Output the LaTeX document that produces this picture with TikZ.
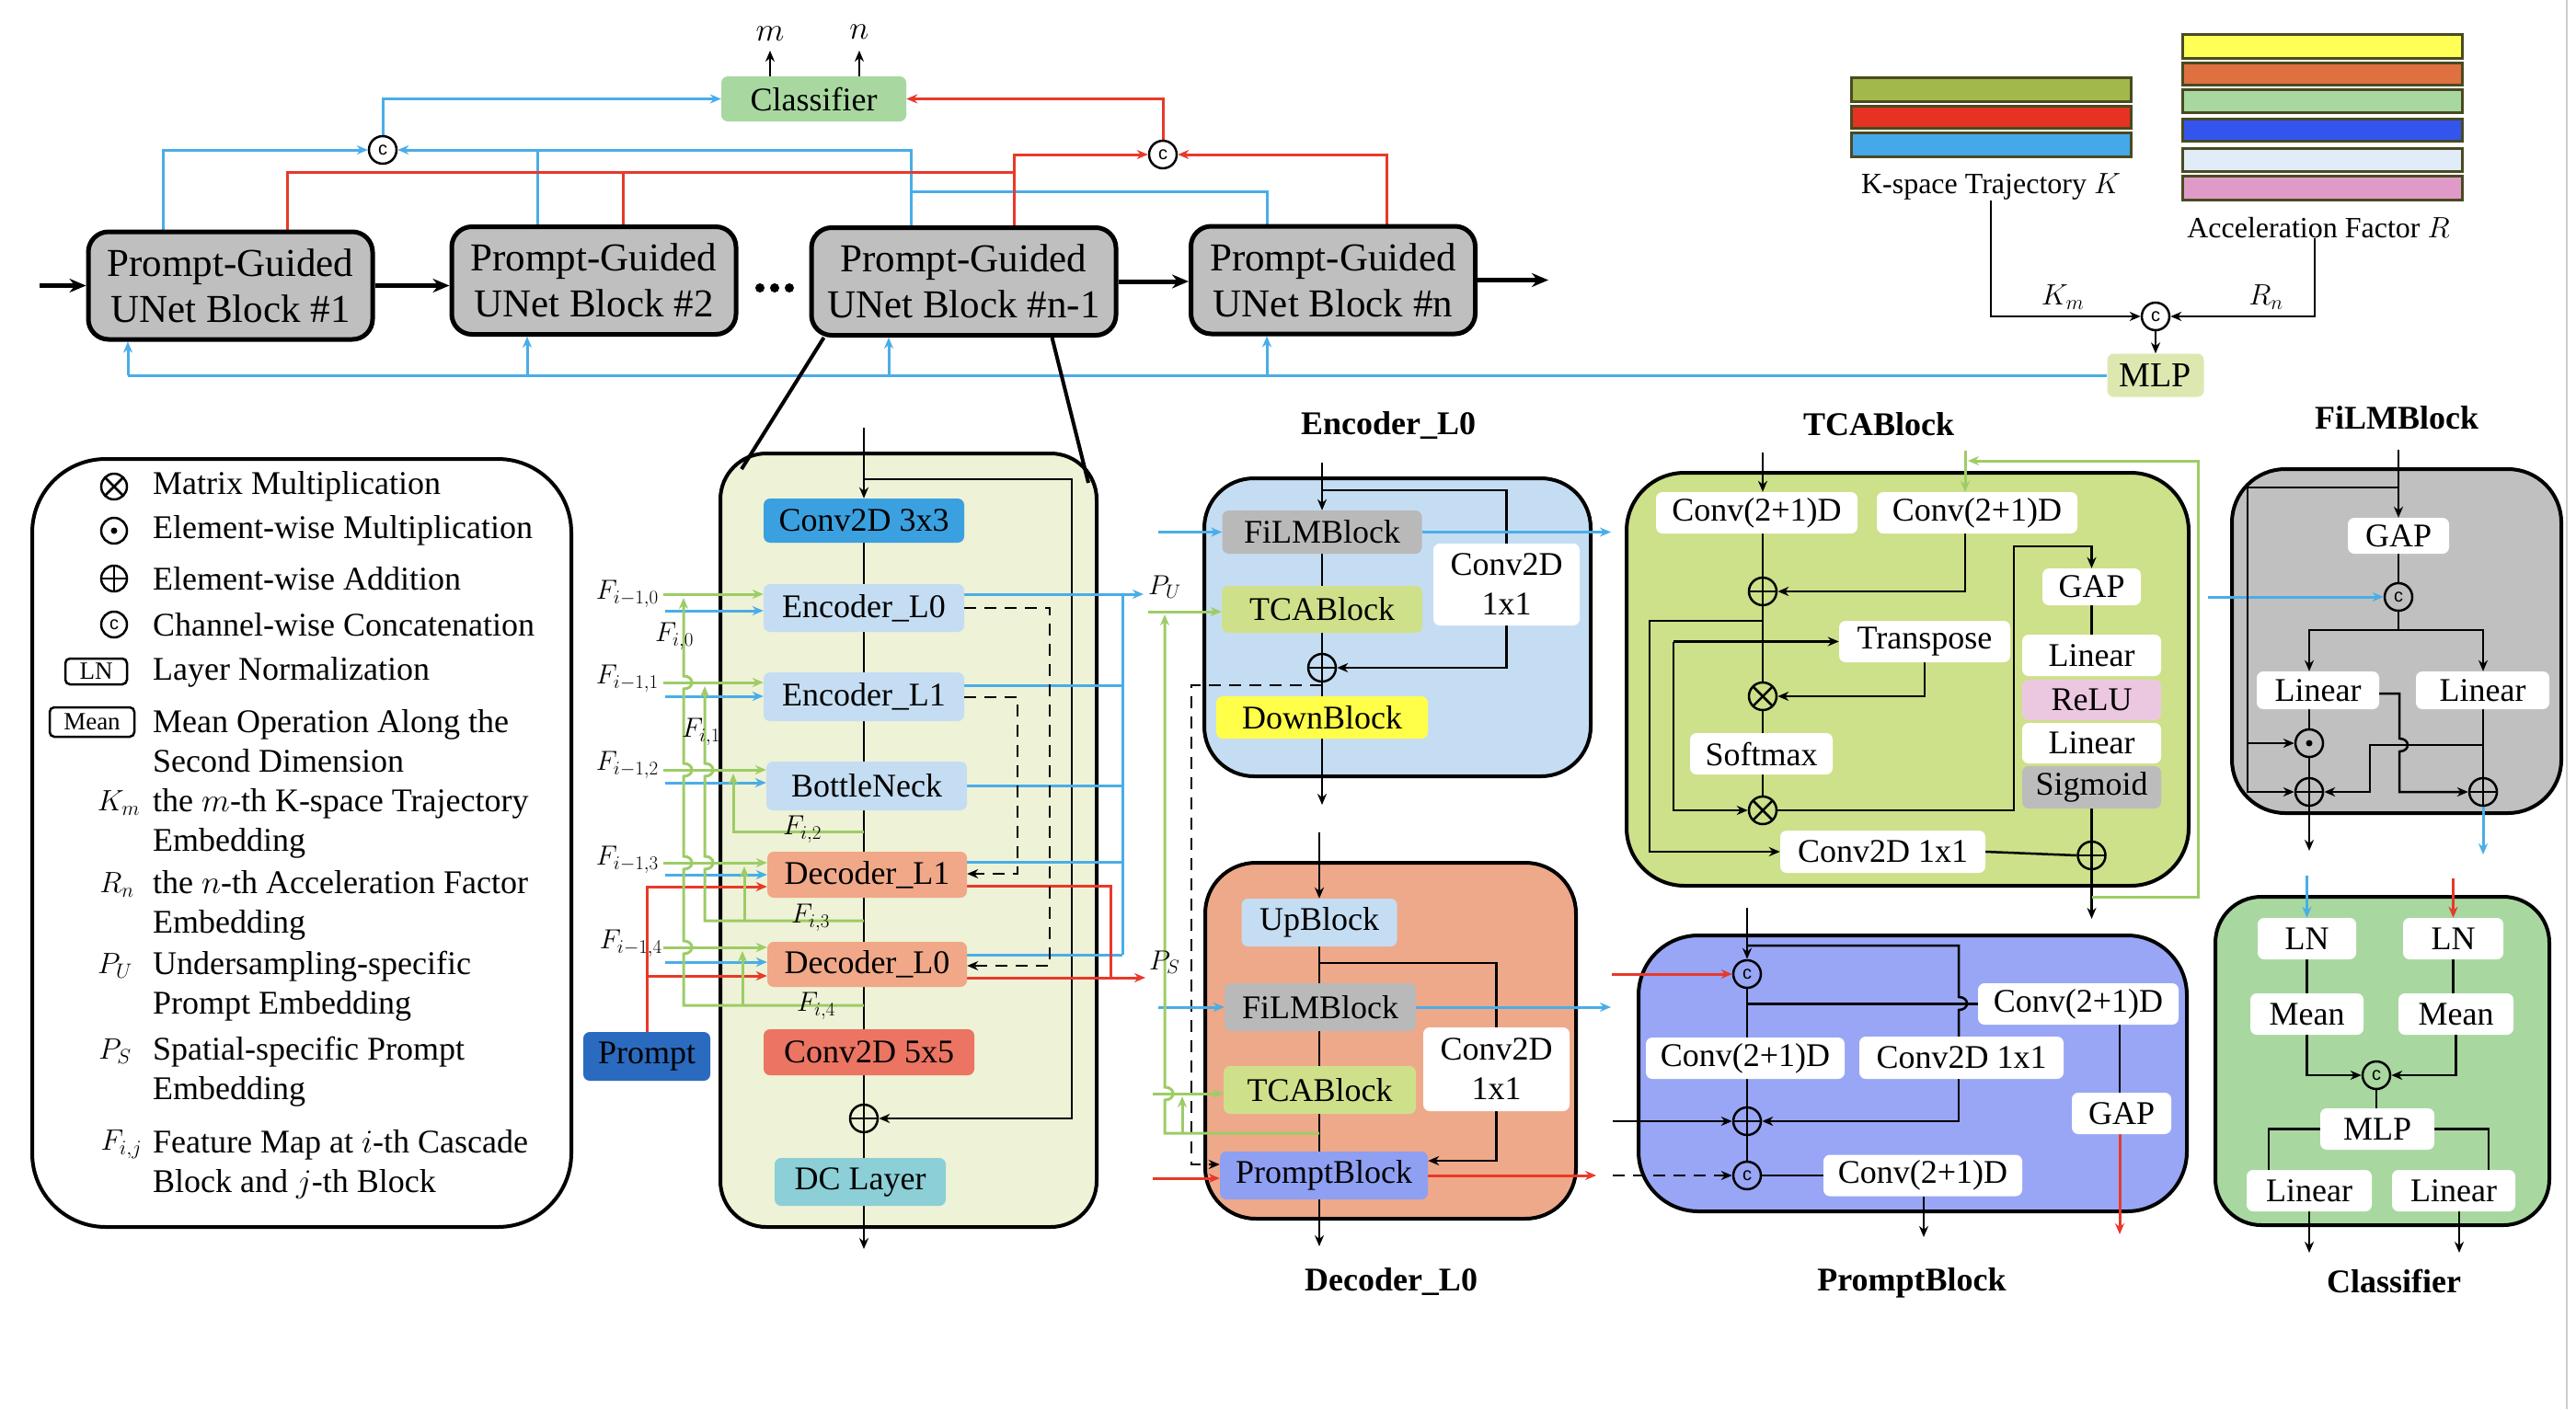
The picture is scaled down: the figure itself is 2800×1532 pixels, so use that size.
\RequirePackage{fix-cm}
\documentclass[tikz,border=0pt]{standalone}
\usepackage{fontspec}
\setmainfont{Liberation Serif}
\newfontfamily\sansf{Liberation Sans}
\usetikzlibrary{arrows.meta}
\definecolor{cBlue}{HTML}{4AADE8}
\definecolor{cRed}{HTML}{E8392A}
\definecolor{cGreen}{HTML}{9DCC66}
\definecolor{cGray}{HTML}{BFBFBF}
\definecolor{cCls}{HTML}{A8D8A0}
\definecolor{cMLP}{HTML}{DDE8B0}
\definecolor{cUnet}{HTML}{EEF2D6}
\definecolor{cConvA}{HTML}{3AA0E0}
\definecolor{cEnc}{HTML}{C5DDF2}
\definecolor{cDec}{HTML}{F0A888}
\definecolor{cConvB}{HTML}{EC7462}
\definecolor{cDC}{HTML}{8CCFD6}
\definecolor{cPrompt}{HTML}{2A6BBF}
\definecolor{cFilm}{HTML}{B9B9B9}
\definecolor{cTca}{HTML}{CFE08A}
\definecolor{cDown}{HTML}{FFFF4A}
\definecolor{cDecBox}{HTML}{EEA98A}
\definecolor{cPB}{HTML}{8F9FF2}
\definecolor{cTcaBox}{HTML}{CDE08A}
\definecolor{cPBBox}{HTML}{98A6F5}
\definecolor{cFilmBox}{HTML}{C0C0C0}
\definecolor{cRelu}{HTML}{ECC8E0}
\definecolor{cSig}{HTML}{BCBCBC}
\definecolor{bKa}{HTML}{A3B84A}
\definecolor{bKb}{HTML}{E53222}
\definecolor{bKc}{HTML}{45A8E8}
\definecolor{bRa}{HTML}{FFFF55}
\definecolor{bRb}{HTML}{E07040}
\definecolor{bRc}{HTML}{A8D8A0}
\definecolor{bRd}{HTML}{3355EE}
\definecolor{bRe}{HTML}{E0ECF8}
\definecolor{bRf}{HTML}{E09AC8}
\definecolor{bEdge}{HTML}{4A4A22}
\pgfdeclarelayer{bgw}
\pgfdeclarelayer{boxes}
\pgfdeclarelayer{edges}
\pgfsetlayers{bgw,boxes,edges,main}
\tikzset{
  fA/.style={font=\fontsize{36}{43}\selectfont},
  fT/.style={font=\fontsize{36}{43}\selectfont\bfseries},
  lbl/.style={inner sep=0pt},
  blk/.style={rounded corners=7pt, inner sep=0pt, align=center, fA},
  ubk/.style={draw, line width=5pt, fill=cGray, rounded corners=22pt, minimum width=309pt, minimum height=117pt, inner sep=0pt, align=center, font=\fontsize{43}{50}\selectfont},
  bigbox/.style={draw, line width=4pt, inner sep=0pt},
  op/.style={circle, draw, line width=2.5pt, minimum size=30pt, inner sep=0pt},
  opplus/.style={op, path picture={\draw[black, line width=2.5pt] (path picture bounding box.north) -- (path picture bounding box.south) (path picture bounding box.west) -- (path picture bounding box.east);}},
  optimes/.style={op, path picture={\draw[black, line width=2.5pt] (path picture bounding box.north west) -- (path picture bounding box.south east) (path picture bounding box.north east) -- (path picture bounding box.south west);}},
  opcat/.style={op, font=\sansf\fontsize{20}{20}\selectfont},
  opdot/.style={op, path picture={\fill[black] (path picture bounding box.center) circle (3.5pt);}},
  ln/.style={line width=2.5pt},
  arr/.style={-{Stealth[length=12pt,width=10pt]}},
  bigarr/.style={line width=5pt, -{Stealth[length=18pt,width=15pt]}},
  bl/.style={cBlue, line width=3pt},
  rd/.style={cRed, line width=3pt},
  gr/.style={cGreen, line width=3pt},
  dsh/.style={line width=2.5pt, dash pattern=on 13pt off 9pt},
  bar/.style={draw=bEdge, line width=3pt},
  mth/.style={inner sep=0pt, font=\fontsize{30}{30}\selectfont},
}
\begin{document}
\begin{tikzpicture}[x=1pt,y=-1pt]
\useasboundingbox (0,0) rectangle (2800,1532);
\begin{pgfonlayer}{bgw}
\fill[white] (0,0) rectangle (2800,1532);
\draw[black!20, line width=2pt] (2790,0) -- (2790,1532);
\end{pgfonlayer}

% ================= TOP CASCADE =================
\node[ubk] (b1) at (250.5,310.5) {Prompt-Guided\\UNet Block \#1};
\node[ubk] (b2) at (645.5,305) {Prompt-Guided\\UNet Block \#2};
\node[ubk, minimum width=331pt] (b3) at (1047.5,306) {Prompt-Guided\\UNet Block \#n-1};
\node[ubk] (b4) at (1449,304.5) {Prompt-Guided\\UNet Block \#n};
\fill (826,313) circle (5pt) (842,313) circle (5pt) (858,313) circle (5pt);
\coordinate (inL) at (43,310.5);
\coordinate (outR) at (1683,304.5);

\node[blk, fill=cCls, minimum width=201pt, minimum height=49pt] (cls) at (884.5,107.5) {Classifier};
\node[lbl, font=\fontsize{36}{36}\selectfont] (lm) at (837,37) {$m$};
\node[lbl, font=\fontsize{36}{36}\selectfont] (lnn) at (934,35) {$n$};
\coordinate (mt) at (837,55);
\coordinate (nt) at (934,55);
\node[opcat, fill=white] (cc1) at (416,163) {c};
\node[opcat, fill=white] (cc2) at (1264,168) {c};

% K / R embeddings
\draw[bar, fill=bKa] (2012,84) rectangle (2316,110);
\draw[bar, fill=bKb] (2012,115) rectangle (2316,139);
\draw[bar, fill=bKc] (2012,144) rectangle (2316,170);
\draw[bar, fill=bRa] (2372,37) rectangle (2676,63);
\draw[bar, fill=bRb] (2372,68) rectangle (2676,92);
\draw[bar, fill=bRc] (2372,97) rectangle (2676,122);
\draw[bar, fill=bRd] (2372,129) rectangle (2676,153);
\draw[bar, fill=bRe] (2372,161) rectangle (2676,186);
\draw[bar, fill=bRf] (2372,191) rectangle (2676,217);
\node[lbl, font=\fontsize{32}{36}\selectfont] (klab) at (2164,203) {K-space Trajectory $K$};
\node[lbl, font=\fontsize{32}{36}\selectfont] (rlab) at (2520,248) {Acceleration Factor $R$};
\node[lbl, font=\fontsize{32}{32}\selectfont] (km) at (2242,323) {$K_m$};
\node[lbl, font=\fontsize{32}{32}\selectfont] (rn) at (2463,323) {$R_n$};
\node[opcat, fill=white] (cc3) at (2343,344) {c};
\node[blk, fill=cMLP, minimum width=105pt, minimum height=47pt, font=\fontsize{38}{40}\selectfont] (mlp) at (2343,408) {MLP};

% ================= LEGEND =================
\begin{pgfonlayer}{boxes}
\node[bigbox, fill=white, rounded corners=80pt, minimum width=586pt, minimum height=835pt] (leg) at (328,916.5) {};
\end{pgfonlayer}
\node[optimes, fill=white, minimum size=28pt] (ls1) at (124,529) {};
\node[opdot, fill=white, minimum size=28pt] (ls2) at (124,577) {};
\node[opplus, fill=white, minimum size=28pt] (ls3) at (124,629) {};
\node[opcat, fill=white, minimum size=28pt] (ls4) at (124,679) {c};
\node[draw, line width=2.5pt, rounded corners=5pt, minimum width=67pt, minimum height=28pt, inner sep=0pt, font=\fontsize{27}{27}\selectfont] (ls5) at (104.5,730) {LN};
\node[draw, line width=2.5pt, rounded corners=5pt, minimum width=92pt, minimum height=32pt, inner sep=0pt, font=\fontsize{27}{27}\selectfont] (ls6) at (100,785) {Mean};
\node[lbl, font=\fontsize{32}{32}\selectfont] (ls7) at (129,873) {$K_m$};
\node[lbl, font=\fontsize{32}{32}\selectfont] (ls8) at (127,962) {$R_n$};
\node[lbl, font=\fontsize{32}{32}\selectfont] (ls9) at (125,1050) {$P_U$};
\node[lbl, font=\fontsize{32}{32}\selectfont] (ls10) at (125,1143) {$P_S$};
\node[lbl, font=\fontsize{32}{32}\selectfont] (ls11) at (132,1244) {$F_{i,j}$};
\node[lbl, fA, anchor=west] (lt1) at (166,529) {Matrix Multiplication};
\node[lbl, fA, anchor=west] (lt2) at (166,577) {Element-wise Multiplication};
\node[lbl, fA, anchor=west] (lt3) at (166,629) {Element-wise Addition};
\node[lbl, fA, anchor=west] (lt4) at (166,679) {Channel-wise Concatenation};
\node[lbl, fA, anchor=west] (lt5) at (166,731) {Layer Normalization};
\node[lbl, fA, anchor=west, align=left] (lt6) at (166,806) {Mean Operation Along the\\Second Dimension};
\node[lbl, fA, anchor=west, align=left] (lt7) at (166,895) {the $m$-th K-space Trajectory\\Embedding};
\node[lbl, fA, anchor=west, align=left] (lt8) at (166,984) {the $n$-th Acceleration Factor\\Embedding};
\node[lbl, fA, anchor=west, align=left] (lt9) at (166,1072) {Undersampling-specific\\Prompt Embedding};
\node[lbl, fA, anchor=west, align=left] (lt10) at (166,1165) {Spatial-specific Prompt\\Embedding};
\node[lbl, fA, anchor=west, align=left] (lt11) at (166,1266) {Feature Map at $i$-th Cascade\\Block and $j$-th Block};

% ================= UNET DETAIL =================
\begin{pgfonlayer}{boxes}
\node[bigbox, fill=cUnet, rounded corners=50pt, minimum width=409pt, minimum height=841pt] (ud) at (987.5,913.5) {};
\end{pgfonlayer}
\node[blk, fill=cConvA, minimum width=218pt, minimum height=48pt] (conv3) at (939,566) {Conv2D 3x3};
\node[blk, fill=cEnc, minimum width=218pt, minimum height=52pt] (enc0) at (939,661) {Encoder\_L0};
\node[blk, fill=cEnc, minimum width=218pt, minimum height=53pt] (enc1) at (939,757.5) {Encoder\_L1};
\node[blk, fill=cEnc, minimum width=218pt, minimum height=53pt] (bott) at (942,854.5) {BottleNeck};
\node[blk, fill=cDec, minimum width=217pt, minimum height=50pt] (dec1) at (942.5,951) {Decoder\_L1};
\node[blk, fill=cDec, minimum width=217pt, minimum height=49pt] (dec0) at (942.5,1048.5) {Decoder\_L0};
\node[blk, fill=cConvB, minimum width=229pt, minimum height=50pt] (conv5) at (944.5,1144) {Conv2D 5x5};
\node[opplus, fill=cUnet] (uplus) at (939,1216) {};
\node[blk, fill=cDC, minimum width=186pt, minimum height=52pt] (dc) at (935,1285) {DC Layer};
\node[blk, fill=cPrompt, minimum width=138pt, minimum height=53pt] (prm) at (703,1148.5) {Prompt};
\coordinate (udin) at (939,465);
\coordinate (udout) at (939,1358);

\node[mth, anchor=east] (fa0) at (716,646) {$F_{i-1,0}$};
\node[mth, anchor=east] (fa1) at (716,738) {$F_{i-1,1}$};
\node[mth, anchor=east] (fa2) at (716,832) {$F_{i-1,2}$};
\node[mth, anchor=east] (fa3) at (716,935) {$F_{i-1,3}$};
\node[mth, anchor=east] (fa4) at (720,1026) {$F_{i-1,4}$};
\node[mth] (fb0) at (733,692) {$F_{i,0}$};
\node[mth] (fb1) at (762,796) {$F_{i,1}$};
\node[mth] (fb2) at (872,902) {$F_{i,2}$};
\node[mth] (fb3) at (881,998) {$F_{i,3}$};
\node[mth] (fb4) at (887,1094) {$F_{i,4}$};
\node[mth, anchor=west] (pul) at (1248,638) {$P_U$};
\node[mth, anchor=west] (psl) at (1249,1046) {$P_S$};

% ================= ENCODER_L0 =================
\begin{pgfonlayer}{boxes}
\node[bigbox, fill=cEnc, rounded corners=54pt, minimum width=420pt, minimum height=324pt] (E) at (1519,682) {};
\end{pgfonlayer}
\node[lbl, fT] (Et) at (1509,463) {Encoder\_L0};
\node[blk, fill=cFilm, minimum width=217pt, minimum height=47pt] (film1) at (1437,578.5) {FiLMBlock};
\node[blk, fill=cTca, minimum width=218pt, minimum height=51pt] (tca1) at (1437,662.5) {TCABlock};
\node[blk, fill=white, minimum width=159pt, minimum height=89pt] (conv1) at (1637.5,635.5) {Conv2D\\1x1};
\node[opplus, fill=cEnc] (plusE) at (1437,726) {};
\node[blk, fill=cDown, minimum width=230pt, minimum height=46pt] (down1) at (1437,780) {DownBlock};
\coordinate (Ein) at (1437,503);
\coordinate (Eout) at (1437,875);

% ================= DECODER_L0 =================
\begin{pgfonlayer}{boxes}
\node[bigbox, fill=cDecBox, rounded corners=55pt, minimum width=403pt, minimum height=387pt] (D) at (1511.5,1131.5) {};
\end{pgfonlayer}
\node[lbl, fT] (Dt) at (1512,1393) {Decoder\_L0};
\node[blk, fill=cEnc, minimum width=169pt, minimum height=52pt] (up1) at (1434,1003) {UpBlock};
\node[blk, fill=cFilm, minimum width=208pt, minimum height=52pt] (film2) at (1435,1095) {FiLMBlock};
\node[blk, fill=white, minimum width=159pt, minimum height=91pt] (conv2) at (1626.5,1162.5) {Conv2D\\1x1};
\node[blk, fill=cTca, minimum width=209pt, minimum height=52pt] (tca2) at (1434.5,1185) {TCABlock};
\node[blk, fill=cPB, minimum width=226pt, minimum height=52pt] (pb1) at (1439,1278) {PromptBlock};
\coordinate (Din) at (1434,905);
\coordinate (Dout) at (1434,1355);

% ================= TCABLOCK =================
\begin{pgfonlayer}{boxes}
\node[bigbox, fill=cTcaBox, rounded corners=63pt, minimum width=611pt, minimum height=449pt] (T) at (2073.5,738.5) {};
\end{pgfonlayer}
\node[lbl, fT] (Tt) at (2042,461) {TCABlock};
\node[blk, fill=white, minimum width=219pt, minimum height=45pt] (tc1) at (1909.5,557.5) {Conv(2+1)D};
\node[blk, fill=white, minimum width=218pt, minimum height=45pt] (tc2) at (2149,557.5) {Conv(2+1)D};
\node[opplus, fill=cTcaBox] (plusT1) at (1916,643) {};
\node[blk, fill=white, minimum width=186pt, minimum height=45pt] (tr) at (2092,697.5) {Transpose};
\node[optimes, fill=cTcaBox] (mul1) at (1916,757) {};
\node[blk, fill=white, minimum width=155pt, minimum height=45pt] (sm) at (1914.5,819.5) {Softmax};
\node[optimes, fill=cTcaBox] (mul2) at (1916,881) {};
\node[blk, fill=white, minimum width=107pt, minimum height=40pt] (gap1) at (2273.5,638) {GAP};
\node[blk, fill=white, minimum width=151pt, minimum height=45pt] (lin1) at (2273.5,712.5) {Linear};
\node[blk, fill=cRelu, minimum width=151pt, minimum height=44pt] (relu) at (2273.5,761) {ReLU};
\node[blk, fill=white, minimum width=151pt, minimum height=44pt] (lin2) at (2273.5,808) {Linear};
\node[blk, fill=cSig, minimum width=151pt, minimum height=46pt] (sig) at (2273.5,856) {Sigmoid};
\node[opplus, fill=cTcaBox] (plusT2) at (2273.5,930) {};
\node[blk, fill=white, minimum width=223pt, minimum height=46pt] (c11) at (2046.5,926) {Conv2D 1x1};
\coordinate (Tin) at (1916,492);
\coordinate (Tg) at (2136,490);
\coordinate (Tout) at (2273.5,999);

% ================= PROMPTBLOCK =================
\begin{pgfonlayer}{boxes}
\node[bigbox, fill=cPBBox, rounded corners=65pt, minimum width=596pt, minimum height=300pt] (P) at (2079,1167) {};
\end{pgfonlayer}
\node[lbl, fT] (Pt) at (2078,1395) {PromptBlock};
\node[opcat, fill=cPBBox] (cat1) at (1899,1059) {c};
\node[blk, fill=white, minimum width=216pt, minimum height=45pt] (pc1) at (1897,1150.5) {Conv(2+1)D};
\node[blk, fill=white, minimum width=218pt, minimum height=45pt] (pc2) at (2259,1091.5) {Conv(2+1)D};
\node[blk, fill=white, minimum width=222pt, minimum height=46pt] (pc3) at (2132,1150) {Conv2D 1x1};
\node[blk, fill=white, minimum width=108pt, minimum height=45pt] (gap2) at (2306,1210.5) {GAP};
\node[opplus, fill=cPBBox] (plusP) at (1899,1219) {};
\node[opcat, fill=cPBBox] (cat2) at (1899,1278) {c};
\node[blk, fill=white, minimum width=216pt, minimum height=45pt] (pc4) at (2090,1278) {Conv(2+1)D};
\coordinate (Pin) at (1899,987);
\coordinate (Pr) at (2304,1342);
\coordinate (Pout) at (2091,1345);

% ================= FILMBLOCK =================
\begin{pgfonlayer}{boxes}
\node[bigbox, fill=cFilmBox, rounded corners=58pt, minimum width=358pt, minimum height=374pt] (F) at (2605,697) {};
\end{pgfonlayer}
\node[lbl, fT] (Ft) at (2605,454) {FiLMBlock};
\node[blk, fill=white, minimum width=110pt, minimum height=39pt] (fgap) at (2607,582.5) {GAP};
\node[opcat, fill=cFilmBox] (fcat) at (2607,649) {c};
\node[blk, fill=white, minimum width=133pt, minimum height=41pt] (flin1) at (2519.5,750.5) {Linear};
\node[blk, fill=white, minimum width=145pt, minimum height=41pt] (flin2) at (2698.5,750.5) {Linear};
\node[opdot, fill=cFilmBox] (fdot) at (2510,808) {};
\node[opplus, fill=cFilmBox] (fplus1) at (2510,861) {};
\node[opplus, fill=cFilmBox] (fplus2) at (2699,861) {};
\coordinate (Fin) at (2607,489);
\coordinate (Fo1) at (2510,925);
\coordinate (Fo2) at (2699,929);

% ================= CLASSIFIER =================
\begin{pgfonlayer}{boxes}
\node[bigbox, fill=cCls, rounded corners=50pt, minimum width=363pt, minimum height=357pt] (C) at (2589.5,1153.5) {};
\end{pgfonlayer}
\node[lbl, fT] (Ct) at (2602,1393) {Classifier};
\node[blk, fill=white, minimum width=107pt, minimum height=45pt] (cln1) at (2507.5,1020.5) {LN};
\node[blk, fill=white, minimum width=109pt, minimum height=45pt] (cln2) at (2666.5,1020.5) {LN};
\node[blk, fill=white, minimum width=123pt, minimum height=45pt] (cm1) at (2507.5,1102.5) {Mean};
\node[blk, fill=white, minimum width=125pt, minimum height=45pt] (cm2) at (2669.5,1102.5) {Mean};
\node[opcat, fill=cCls] (ccat) at (2583,1169) {c};
\node[blk, fill=white, minimum width=124pt, minimum height=45pt] (cmlp) at (2584,1227.5) {MLP};
\node[blk, fill=white, minimum width=136pt, minimum height=45pt] (clin1) at (2510,1294.5) {Linear};
\node[blk, fill=white, minimum width=134pt, minimum height=45pt] (clin2) at (2667,1294.5) {Linear};
\coordinate (Ci1) at (2507.5,952);
\coordinate (Ci2) at (2666.5,955);
\coordinate (Co1) at (2510,1362);
\coordinate (Co2) at (2673,1362);

% ================= EDGES =================
\begin{pgfonlayer}{edges}
% top cascade
\draw[bigarr] (inL) -- (b1.west);
\draw[bigarr] (b1.east) -- (b1.east -| b2.west);
\draw[bigarr] (b3.east) -- (b3.east -| b4.west);
\draw[bigarr] (b4.east) -- (outR);
\draw[ln, arr] (cls.north -| mt) -- (mt);
\draw[ln, arr] (cls.north -| nt) -- (nt);
\draw[bl, arr] (177,0 |- b1.north) |- (cc1.west);
\draw[bl, arr] (990,0 |- b3.north) |- (cc1.east);
\draw[bl] (584,0 |- b2.north) -- (584,163);
\draw[bl] (1377,0 |- b4.north) |- (990,208);
\draw[bl, arr] (cc1.north) |- (cls.west);
\draw[rd] (312,0 |- b1.north) |- (1102,187);
\draw[rd] (677,0 |- b2.north) -- (677,187);
\draw[rd, arr] (1102,0 |- b3.north) |- (cc2.west);
\draw[rd, arr] (1507,0 |- b4.north) |- (cc2.east);
\draw[rd, arr] (cc2.north) |- (cls.east);
\draw[bl] (139,408) -- (mlp.west);
\draw[bl, arr] (139,408) -- (139,0 |- b1.south);
\draw[bl, arr] (573,408) -- (573,0 |- b2.south);
\draw[bl, arr] (966,408) -- (966,0 |- b3.south);
\draw[bl, arr] (1377,408) -- (1377,0 |- b4.south);
\draw[ln, arr] (klab.south) |- (cc3.west);
\draw[ln, arr] (2516,0 |- rlab.south) |- (cc3.east);
\draw[ln, arr] (cc3.south) -- (mlp.north);
% zoom lines
\draw[line width=4pt] ([xshift=16pt]b3.south west) -- (806,510);
\draw[line width=4pt] ([xshift=-72pt]b3.south east) -- (1183,525);

% unet detail
\draw[ln, arr] (udin) -- (conv3.north);
\draw[ln, arr] (conv3.south) -- (udout);
\draw[ln, arr] (939,521) -- (1165,521) -- (1165,0 |- uplus.east) -- (uplus.east);
\draw[gr, arr] (721,646) -- (enc0.west |- 0,646);
\draw[bl, arr] (723,664) -- (enc0.west |- 0,664);
\draw[gr, arr] (721,742) -- (enc1.west |- 0,742);
\draw[bl, arr] (723,757) -- (enc1.west |- 0,757);
\draw[gr, arr] (721,837) -- (bott.west |- 0,837);
\draw[bl, arr] (723,851) -- (bott.west |- 0,851);
\draw[gr, arr] (721,938) -- (dec1.west |- 0,938);
\draw[bl, arr] (723,951) -- (dec1.west |- 0,951);
\draw[gr, arr] (721,1030) -- (dec0.west |- 0,1030);
\draw[bl, arr] (723,1046) -- (dec0.west |- 0,1046);
\draw[rd, arr] (prm.north) |- (dec1.west |- 0,964);
\draw[rd, arr] (703,1061) -- (dec0.west |- 0,1061);
% F_{i,j} feedback lines
\draw[gr, arr] (939,1093) -- (743,1093) -- (743,1037) .. controls (755,1037) and (755,1023) .. (743,1023) -- (743,945) .. controls (755,945) and (755,931) .. (743,931) -- (743,844) .. controls (755,844) and (755,830) .. (743,830) -- (743,749) .. controls (755,749) and (755,735) .. (743,735) -- (743,650);
\draw[gr, arr] (807,1093) -- (807,1034);
\draw[gr, arr] (939,1001) -- (766,1001) -- (766,945) .. controls (778,945) and (778,931) .. (766,931) -- (766,844) .. controls (778,844) and (778,830) .. (766,830) -- (766,746);
\draw[gr, arr] (809,1001) -- (809,942);
\draw[gr, arr] (939,904) -- (797,904) -- (797,841);
% outputs of unet detail
\draw[bl, arr] (enc0.east |- 0,646) -- (1243,646);
\draw[bl] (1220,646) -- (1220,1038);
\draw[bl] (enc1.east |- 0,745) -- (1220,745);
\draw[bl] (bott.east |- 0,854) -- (1220,854);
\draw[bl] (dec1.east |- 0,937) -- (1220,937);
\draw[bl] (dec0.east |- 0,1038) -- (1220,1038);
\draw[rd] (dec1.east |- 0,963) -| (1207,1063);
\draw[rd, arr] (dec0.east |- 0,1063) -- (1245,1063);
\draw[dsh, arr] (enc0.east |- 0,661) -| (1141,1050) -- (dec0.east |- 0,1050);
\draw[dsh, arr] (enc1.east |- 0,758) -| (1106,950) -- (dec1.east |- 0,950);

% encoder
\draw[ln, arr] (Ein) -- (film1.north);
\draw[ln, arr] (film1.south) -- (Eout);
\draw[ln] (1437,533) -| (conv1.north);
\draw[ln, arr] (conv1.south) |- (plusE.east);
\draw[bl, arr] (1259,578.5) -- (film1.west);
\draw[bl, arr] (film1.east) -- (1751,578.5);
\draw[gr, arr] (1248,665) -- (tca1.west |- 0,665);
\draw[dsh, arr] (1437,745) -| (1295,1266) -- (pb1.west |- 0,1266);

% decoder
\draw[ln, arr] (Din) -- (up1.north);
\draw[ln, arr] (up1.south) -- (Dout);
\draw[ln] (1434,1047) -| (conv2.north);
\draw[ln, arr] (conv2.south) |- ([yshift=16pt]pb1.east);
\draw[bl, arr] (1259,1095) -- (film2.west);
\draw[bl, arr] (film2.east) -- (1751,1095);
\draw[gr, arr] (1253,1189) -- (tca2.west |- 0,1189);
\draw[gr, arr] (1434,1232) -- (1266,1232) -- (1266,1196) .. controls (1278,1196) and (1278,1182) .. (1266,1182) -- (1266,668);
\draw[gr, arr] (1285,1232) -- (1285,1192);
\draw[rd, arr] (1253,1281) -- (pb1.west |- 0,1281);
\draw[rd, arr] (pb1.east) -- (1735,1278);

% TCA
\draw[ln, arr] (Tin) -- (1916,0 |- tc1.north);
\draw[ln] (1916,0 |- tc1.south) -- (mul2.north);
\draw[ln, arr] (2136,0 |- tc2.south) |- (plusT1.east);
\draw[ln, arr] (1916,675) -| (1793,926) -- (c11.west);
\draw[ln, arr] (1819,697.5) -- (tr.west);
\draw[ln, arr] (1819,697.5) |- (mul2.west);
\draw[ln, arr] (tr.south) |- (mul1.east);
\draw[ln, arr] (mul2.east) -| (2189,594) -| (gap1.north);
\draw[ln] (gap1.south) -- (lin1.north);
\draw[ln] (sig.south) -- (plusT2.north);
\draw[ln] (c11.east) -- (plusT2.west);
\draw[ln, arr] (plusT2.south) -- (Tout);
\draw[gr, arr] (Tg) -- (2136,0 |- tc2.north);
\draw[gr, arr] (2273.5,975) -| (2389,501) -- (2139,501);
\draw[bl, arr] (2400,649) -- (fcat.west);

% PromptBlock
\draw[ln, arr] (Pin) -- (cat1.north);
\draw[ln] (cat1.south) -- (cat2.north);
\draw[ln] (1899,1028) -- (2129,1028) -- (2129,1084) .. controls (2141,1084) and (2141,1098) .. (2129,1098) -- (2129,0 |- pc3.north);
\draw[ln, arr] (2129,0 |- pc3.south) |- (plusP.east);
\draw[ln] (1899,1091.5) -- (pc2.west);
\draw[ln] (2304,0 |- pc2.south) -- (2304,0 |- gap2.north);
\draw[rd, arr] (2304,0 |- gap2.south) -- (Pr);
\draw[rd, arr] (1752,1059) -- (cat1.west);
\draw[ln, arr] (1753,1219) -- (plusP.west);
\draw[dsh, arr] (1753,1278) -- (cat2.west);
\draw[ln] (cat2.east) -- (pc4.west);
\draw[ln, arr] (2091,0 |- pc4.south) -- (Pout);

% FiLM
\draw[ln, arr] (Fin) -- (fgap.north);
\draw[ln, arr] (2607,530) -| (2443,861) -- (fplus1.west);
\draw[ln, arr] (2443,808) -- (fdot.west);
\draw[ln] (fgap.south) -- (fcat.north);
\draw[ln] (fcat.south) -- (2607,685);
\draw[ln, arr] (2607,685) -| (2510,0 |- flin1.north);
\draw[ln, arr] (2607,685) -| (2699,0 |- flin2.north);
\draw[ln] (2510,0 |- flin1.south) -- (fdot.north);
\draw[ln] (fdot.south) -- (fplus1.north);
\draw[ln] (2699,0 |- flin2.south) -- (fplus2.north);
\draw[ln, arr] (2699,810) -| (2576,861) -- (fplus1.east);
\draw[ln, arr] (flin1.east |- 0,754) -- (2608,754) -- (2608,803) .. controls (2620,803) and (2620,817) .. (2608,817) -- (2608,861) -- (fplus2.west);
\draw[ln, arr] (fplus1.south) -- (Fo1);
\draw[bl, arr] (fplus2.south) -- (Fo2);

% Classifier
\draw[bl, arr] (Ci1) -- (cln1.north);
\draw[rd, arr] (Ci2) -- (cln2.north);
\draw[ln] (cln1.south) -- (cm1.north);
\draw[ln] (cln2.south) -- (2666.5,0 |- cm2.north);
\draw[ln, arr] (cm1.south) |- (ccat.west);
\draw[ln, arr] (cm2.south) |- (ccat.east);
\draw[ln] (ccat.south) -- (2583,0 |- cmlp.north);
\draw[ln] (cmlp.west) -| (2466,0 |- clin1.north);
\draw[ln] (cmlp.east) -| (2705,0 |- clin2.north);
\draw[ln, arr] (clin1.south) -- (Co1);
\draw[ln, arr] (2673,0 |- clin2.south) -- (Co2);
\end{pgfonlayer}
\end{tikzpicture}
\end{document}
